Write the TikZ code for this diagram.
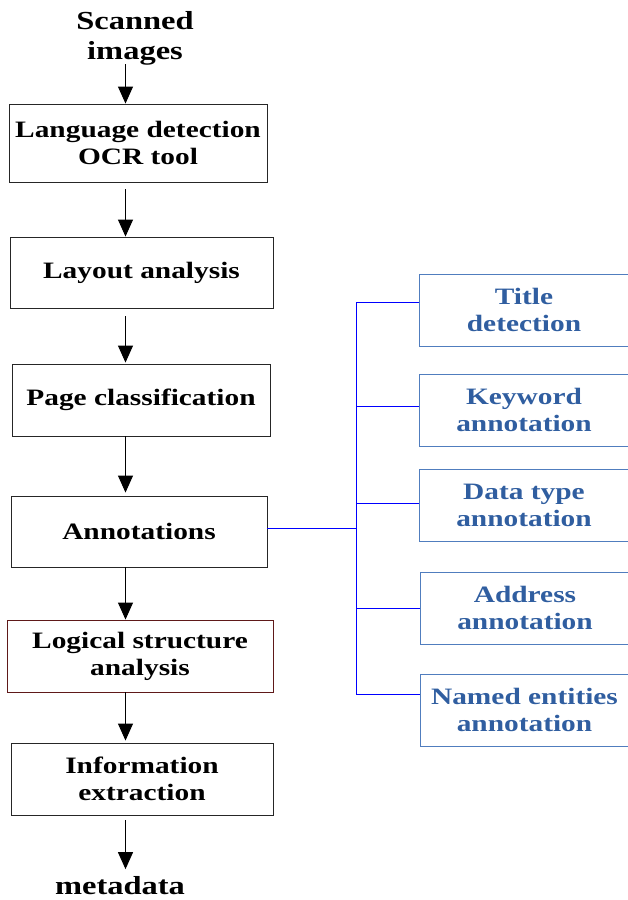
\documentclass[tikz,border=0pt]{standalone}
\usepackage{fontspec}
\setmainfont{Liberation Serif}[FakeStretch=1.25]
\usetikzlibrary{arrows.meta}
\definecolor{tblue}{RGB}{48,94,160}
\definecolor{bblue}{RGB}{80,125,190}
\definecolor{dred}{RGB}{95,25,25}
\tikzset{
  lbox/.style={draw=black!85, line width=0.9pt, align=center, inner sep=0pt, font=\fontsize{23.5}{27}\selectfont\bfseries},
  rbox/.style={draw=bblue, line width=0.9pt, align=center, inner sep=0pt, text=tblue, minimum width=209pt, minimum height=72pt, font=\fontsize{23.5}{27}\selectfont\bfseries},
  lbl/.style={align=center, inner sep=0pt, font=\fontsize{26}{30}\selectfont\bfseries},
  arr/.style={line width=1pt, -{Triangle[length=17pt,width=15pt]}},
  bl/.style={draw=blue, line width=0.9pt}
}
\begin{document}
\begin{tikzpicture}[x=1pt,y=-1pt]
\useasboundingbox (0,0) rectangle (627,900);
\coordinate (ax) at (125.5,0);
\coordinate (tx) at (356,0);
\node[lbl] (src) at (135,38) {Scanned\\images};
\node[lbox, minimum width=258pt, minimum height=78pt] (b1) at (138,143) {Language detection\\OCR tool};
\node[lbox, minimum width=263pt, minimum height=71pt] (b2) at (141.5,272.5) {Layout analysis};
\node[lbox, minimum width=258pt, minimum height=72pt] (b3) at (141,400) {Page classification};
\node[lbox, minimum width=256pt, minimum height=71pt] (b4) at (139,531.5) {Annotations};
\node[lbox, draw=dred, minimum width=266pt, minimum height=72pt] (b5) at (140,656) {Logical structure\\analysis};
\node[lbox, minimum width=262pt, minimum height=72pt] (b6) at (142,779) {Information\\extraction};
\node[lbl] (meta) at (120,885.5) {metadata};
\node[rbox] (t1) at (524,310) {Title\\detection};
\node[rbox] (t2) at (524,410) {Keyword\\annotation};
\node[rbox] (t3) at (524,505) {Data type\\annotation};
\node[rbox] (t4) at (525,608) {Address\\annotation};
\node[rbox] (t5) at (524.5,710) {Named entities\\annotation};
\draw[arr] (src.south -| ax) ++(0,-1) -- (b1.north -| ax);
\draw[arr] ([yshift=-7pt]b1.south -| ax) -- (b2.north -| ax);
\draw[arr] ([yshift=-8pt]b2.south -| ax) -- ([yshift=1pt]b3.north -| ax);
\draw[arr] (b3.south -| ax) -- ([yshift=3pt]b4.north -| ax);
\draw[arr] (b4.south -| ax) -- (b5.north -| ax);
\draw[arr] (b5.south -| ax) -- ([yshift=2pt]b6.north -| ax);
\draw[arr] ([yshift=-5pt]b6.south -| ax) -- ([yshift=7pt]meta.north -| ax);
\draw[bl] ([yshift=3.5pt]b4.east) -- ([yshift=3.5pt]b4.east -| tx);
\draw[bl] ([yshift=8pt]t1.west -| tx) -- ([yshift=16pt]t5.west -| tx);
\draw[bl] ([yshift=8pt]t1.west -| tx) -- ([yshift=8pt]t1.west);
\draw[bl] ([yshift=4pt]t2.west -| tx) -- ([yshift=4pt]t2.west);
\draw[bl] ([yshift=2pt]t3.west -| tx) -- ([yshift=2pt]t3.west);
\draw[bl] (t4.west -| tx) -- (t4.west);
\draw[bl] ([yshift=16pt]t5.west -| tx) -- ([yshift=16pt]t5.west);
\end{tikzpicture}
\end{document}
